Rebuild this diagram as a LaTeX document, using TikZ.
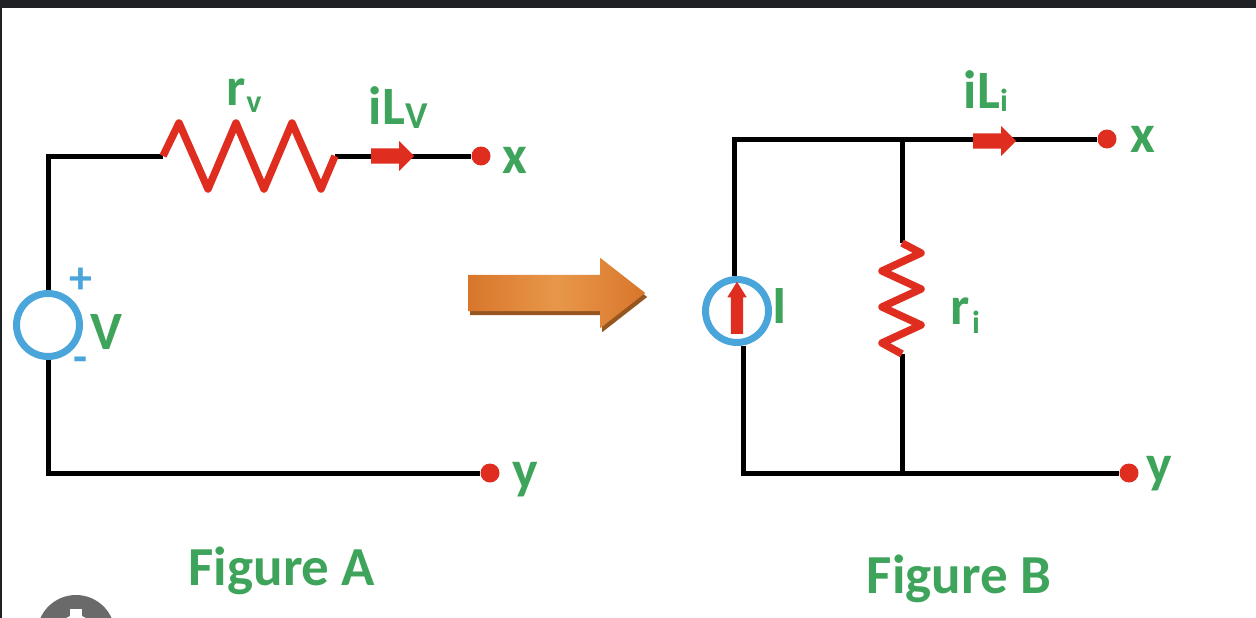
\documentclass[tikz,border=0pt]{standalone}
\usepackage{fontspec}
\setmainfont{Carlito}
\usetikzlibrary{shapes,positioning}
\definecolor{barcolor}{HTML}{202124}
\definecolor{badgegray}{HTML}{6A6A6A}
\definecolor{wirered}{HTML}{DF2E20}
\definecolor{labelgreen}{HTML}{3FA45B}
\definecolor{ringblue}{HTML}{4AA5DA}
\definecolor{arrowmid}{HTML}{E8974A}
\definecolor{arrowedge}{HTML}{D8762B}
\definecolor{arrowdark}{HTML}{96561F}
\tikzset{
    wire/.style={draw, black, line width=5pt, line join=miter},
    resistor/.style={draw, wirered, line width=7.5pt, line join=round},
    terminal/.style={circle, fill=wirered, minimum size=19pt, inner sep=0pt},
    source/.style={circle, draw=ringblue, fill=white, line width=7pt, minimum size=63pt, inner sep=0pt},
    current/.style={single arrow, fill=wirered, inner xsep=0pt, inner ysep=7.5pt, minimum height=43pt, minimum width=30pt, single arrow head extend=7.5pt, anchor=tail},
    bigarrow/.style={single arrow, inner xsep=0pt, inner ysep=18pt, minimum height=177pt, minimum width=70pt, single arrow head extend=17pt, single arrow tip angle=76, anchor=tail},
    lbl/.style={text=labelgreen, font=\fontsize{54}{54}\selectfont\bfseries, inner sep=0pt},
    sublbl/.style={lbl, font=\fontsize{32}{32}\selectfont\bfseries},
    sign/.style={text=ringblue, font=\fontsize{46}{46}\selectfont\bfseries, inner sep=0pt},
    caption/.style={lbl, font=\fontsize{55}{55}\selectfont\bfseries}
}
\begin{document}
\begin{tikzpicture}[x=1pt,y=-1pt]
	\useasboundingbox (0,0) rectangle (1256,618);
	\clip (0,0) rectangle (1256,618);
	% window edges
	\fill[barcolor] (0,0) rectangle (1256,8);
	\fill[barcolor] (0,0) rectangle (1.5,618);
	\fill[badgegray] (76,634) circle (39);
	\fill[white] (76,632) circle (17);
	\fill[white] (70,609) rectangle (82,620);
	% figure A
	\coordinate (a1) at (48,156);
	\coordinate (a2) at (48,473);
	\node[terminal] (ax) at (481,156) {};
	\node[terminal] (ay) at (490,473) {};
	\coordinate (ra) at (163,156);
	\coordinate (rb) at (335,156);
	\node[source] (vs) at (48,325) {};
	\draw[wire] (vs.north) -- (a1) -- (ra);
	\draw[wire] (rb) -- (ax);
	\draw[wire] (vs.south) -- (a2) -- (ay);
	\draw[resistor] (ra) -- (179,123) -- (208,189) -- (236,123) -- (264,189) -- (292,123) -- (321,189) -- (rb);
	\node[current] (ia) at (371,156) {};
	\node[lbl] (rv) at (236,92) {r};
	\node[sublbl] (rvs) at (254,105) {v};
	\node[lbl] (ila) at (387,106) {iL};
	\node[sublbl, font=\fontsize{38}{38}\selectfont\bfseries] (ilas) at (417,116) {V};
	\node[lbl] (xa) at (515,160) {x};
	\node[lbl] (ya) at (525,480) {y};
	\node[sign] (plus) at (81,281) {+};
	\node[sign] (minus) at (81,365) {-};
	\node[lbl] (vl) at (106,332) {V};
	\node[caption] (capa) at (282,571) {Figure A};
	% arrow between
	\node[bigarrow, fill=arrowdark] (shade) at (470,297) {};
	\node[bigarrow, left color=arrowedge, right color=arrowedge, middle color=arrowmid] (conv) at (468,293) {};
	% figure B
	\coordinate (b1) at (734,139);
	\coordinate (b2) at (743,473);
	\coordinate (tj) at (902,139);
	\coordinate (bj) at (902,473);
	\coordinate (rc) at (902,243);
	\coordinate (rd) at (902,354);
	\node[terminal] (bx) at (1107,139) {};
	\node[terminal] (by) at (1129,473) {};
	\node[source] (is) at (737,311) {};
	\draw[wire] (is.north -| b1) -- (b1) -- (bx);
	\draw[wire] (is.south -| b2) -- (b2) -- (by);
	\draw[wire] (tj) -- (rc);
	\draw[wire] (rd) -- (bj);
	\draw[resistor] (rc) -- (921,253) -- (882,271) -- (921,289) -- (882,307) -- (921,325) -- (882,343) -- (rd);
	\node[current] (ib) at (973,141) {};
	\node[current, shape border rotate=90, inner sep=6pt, minimum height=52pt, minimum width=19pt, single arrow head extend=3.5pt, single arrow tip angle=64] (iu) at (737,334) {};
	\node[lbl] (il) at (780,306) {I};
	\node[lbl] (ri) at (960,311) {r};
	\node[sublbl] (ris) at (976,322) {i};
	\node[lbl] (ilb) at (982,90) {iL};
	\node[sublbl] (ilbs) at (1004,100) {i};
	\node[lbl] (xb) at (1143,139) {x};
	\node[lbl] (yb) at (1159,474) {y};
	\node[caption] (capb) at (959,579) {Figure B};
\end{tikzpicture}
\end{document}
